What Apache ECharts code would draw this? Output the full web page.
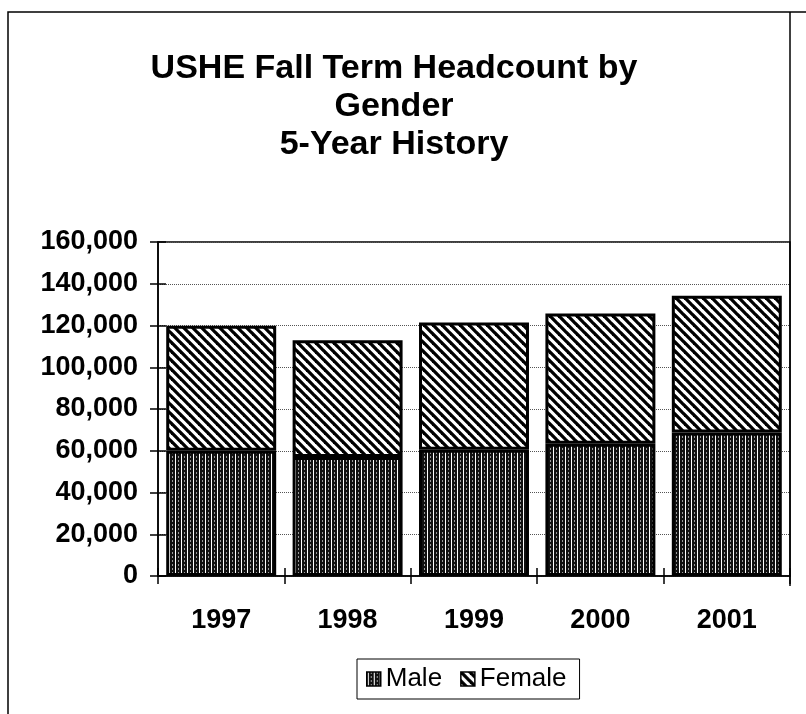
<!DOCTYPE html>
<html>
<head>
<meta charset="UTF-8">
<title>USHE Fall Term Headcount by Gender</title>
<script src="https://cdn.jsdelivr.net/npm/echarts@6/dist/echarts.min.js"></script>
<style>
    body { margin: 0; padding: 0; background: #fff; overflow: hidden; }
    #chart { width: 806px; height: 714px; }
</style>
</head>
<body>
<div id="chart"></div>
<script>
    // data
    var years = ['1997', '1998', '1999', '2000', '2001'];
    var male = [60000, 57000, 60500, 63400, 68800];
    var female = [59900, 55900, 60900, 62300, 65500];
    var yTicks = [0, 20000, 40000, 60000, 80000, 100000, 120000, 140000, 160000];

    // hatch fills like the old excel print
    function vertPattern() {
        var c = document.createElement('canvas');
        c.width = 6; c.height = 4;
        var g = c.getContext('2d');
        g.fillStyle = '#111';
        g.fillRect(0, 0, 6, 4);
        g.fillStyle = '#fff';
        g.fillRect(1, 0, 1, 4);
        g.fillStyle = '#9a9a9a';
        g.fillRect(4, 0, 1, 2);
        return c;
    }
    function diagPattern() {
        var s = 9;
        var c = document.createElement('canvas');
        c.width = s; c.height = s;
        var g = c.getContext('2d');
        g.fillStyle = '#fff';
        g.fillRect(0, 0, s, s);
        g.strokeStyle = '#000';
        g.lineWidth = 3.3;
        for (var k = -1; k <= 1; k++) {
            g.beginPath();
            g.moveTo(k * s - 2, -2);
            g.lineTo(k * s + s + 2, s + 2);
            g.stroke();
        }
        return c;
    }
    var maleFill = { image: vertPattern(), repeat: 'repeat' };
    var femaleFill = { image: diagPattern(), repeat: 'repeat' };

    var font = '"Liberation Sans", Arial, sans-serif';
    var axisCol = '#000';
    var chart = echarts.init(document.getElementById('chart'));

    // excel draws "cross" ticks: second pair of axes gives the inner half
    var tickIn = { show: true, inside: true, length: 8, lineStyle: { color: axisCol, width: 1.5 } };
    var tickOut = { show: true, length: 8, lineStyle: { color: axisCol, width: 1.5 } };

    var option = {
        backgroundColor: '#fff',
        animation: false,
        title: {
            text: 'USHE Fall Term Headcount by\nGender\n5-Year History',
            left: 394,
            top: 50,
            padding: 0,
            textAlign: 'center',
            textStyle: {
                fontFamily: font,
                fontSize: 34,
                fontWeight: 'bold',
                lineHeight: 38,
                color: '#000'
            }
        },
        legend: {
            data: ['Male', 'Female'],
            left: 357,
            top: 659,
            orient: 'horizontal',
            itemWidth: 14,
            itemHeight: 14,
            itemGap: 18,
            padding: [5, 13, 5, 9],
            borderColor: '#000',
            borderWidth: 1,
            borderRadius: 0,
            icon: 'rect',
            itemStyle: { borderWidth: 1.5, borderColor: '#000' },
            textStyle: { fontFamily: font, fontSize: 26, color: '#000', lineHeight: 30 }
        },
        grid: {
            left: 158,
            right: 16,
            top: 242,
            bottom: 138,
            show: true,
            borderColor: '#000',
            borderWidth: 1.5
        },
        xAxis: [{
            type: 'category',
            data: years,
            axisLine: { lineStyle: { color: axisCol, width: 1.5 } },
            axisTick: tickOut,
            axisLabel: {
                margin: 31,
                fontFamily: font,
                fontSize: 27,
                fontWeight: 'bold',
                color: '#000'
            }
        }, {
            type: 'category',
            data: years,
            position: 'bottom',
            axisLine: { show: false },
            axisTick: tickIn,
            axisLabel: { show: false }
        }],
        yAxis: [{
            type: 'value',
            min: yTicks[0],
            max: yTicks[yTicks.length - 1],
            interval: yTicks[1] - yTicks[0],
            axisLine: { show: true, lineStyle: { color: axisCol, width: 1.5 } },
            axisTick: tickOut,
            splitLine: { show: true, lineStyle: { color: '#555', type: 'dotted', width: 1 } },
            axisLabel: {
                margin: 20,
                fontFamily: font,
                fontSize: 27,
                fontWeight: 'bold',
                color: '#000',
                formatter: function (v) { return v.toLocaleString('en-US'); }
            }
        }, {
            type: 'value',
            position: 'left',
            min: yTicks[0],
            max: yTicks[yTicks.length - 1],
            interval: yTicks[1] - yTicks[0],
            axisLine: { show: false },
            axisTick: tickIn,
            splitLine: { show: false },
            axisLabel: { show: false }
        }],
        series: [{
            name: 'Male',
            type: 'bar',
            stack: 'total',
            data: male,
            barCategoryGap: '13%',
            itemStyle: { color: maleFill, borderColor: '#000', borderWidth: 3 }
        }, {
            name: 'Female',
            type: 'bar',
            stack: 'total',
            data: female,
            barCategoryGap: '13%',
            itemStyle: { color: femaleFill, borderColor: '#000', borderWidth: 3 }
        }],
        graphic: [{
            type: 'polyline',
            shape: { points: [[8, 714], [8, 12], [806, 12]] },
            style: { fill: null, stroke: '#000', lineWidth: 1.5 },
            silent: true
        }, {
            type: 'line',
            shape: { x1: 790, y1: 12, x2: 790, y2: 586 },
            style: { stroke: '#000', lineWidth: 1.5 },
            silent: true
        }]
    };
    chart.setOption(option);
</script>
</body>
</html>
